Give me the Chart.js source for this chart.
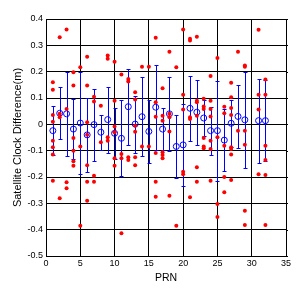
<!DOCTYPE html>
<html>
<head>
<meta charset="utf-8">
<script src="https://cdn.jsdelivr.net/npm/chart.js@4/dist/chart.umd.min.js"></script>
<style>
  html, body { margin: 0; padding: 0; background: #ffffff; }
  canvas { display: block; }
</style>
</head>
<body>
<canvas id="c" width="300" height="294"></canvas>
<script>
// PRN numbers that have a mean / error bar
const prnList = [1,2,3,4,5,6,7,8,9,10,11,12,13,14,15,16,17,18,19,20,21,22,23,24,25,26,27,28,29,31,32];
// Mean clock difference (m) per PRN (blue circles)
const meanDiff = [-0.024,0.042,0.040,-0.018,0.005,-0.040,-0.001,-0.030,0.018,-0.034,-0.053,0.067,0.001,0.029,-0.027,0.065,-0.018,0.040,-0.084,-0.078,0.061,0.046,0.024,-0.024,-0.024,-0.060,0.004,0.030,0.017,0.014,0.014];
// Half length of each error bar (m)
const stdDiff = [0.094,0.098,0.160,0.115,0.195,0.140,0.137,0.066,0.125,0.097,0.145,0.144,0.108,0.150,0.119,0.161,0.080,0.140,0.120,0.156,0.123,0.123,0.069,0.091,0.190,0.118,0.090,0.120,0.183,0.159,0.155];
// Individual clock differences (m) per PRN (red dots), same order as prnList
const sampleDiff = [
  [0.160,0.131,0.035,0.010,-0.062,-0.087,-0.115,-0.214],
  [0.331,0.040,0.027,-0.281],
  [0.360,0.058,-0.220,-0.243],
  [0.198,0.147,-0.052,-0.100,-0.140,-0.157],
  [0.217,-0.084,-0.385],
  [0.257,0.147,0.008,-0.040,-0.155,-0.218,-0.290],
  [0.105,0.087,-0.195,-0.218],
  [0.071,-0.068],
  [0.261,0.249,-0.049,-0.062],
  [0.238,0.090,-0.008,-0.030,-0.129,-0.157],
  [0.189,-0.113,-0.129,-0.414],
  [0.172,0.163,-0.125,-0.135],
  [0.122,0.094,-0.005,-0.028,-0.125,-0.155],
  [0.219,-0.084],
  [0.219,-0.084],
  [0.329,0.084,0.029,-0.109,-0.218,-0.275],
  [0.137,0.033,0.014,-0.106,-0.116,-0.129],
  [0.276,0.040,0.027,-0.027,-0.271],
  [0.217,-0.385],
  [0.360,0.112,0.056,-0.180,-0.190],
  [0.325,0.318,0.027,0.020,-0.277],
  [0.333,0.090,0.084,0.033,-0.163,-0.218],
  [0.097,0.068,0.058,-0.052,-0.084,-0.091],
  [0.184,0.090,0.058,0.030,-0.062,-0.094,-0.214],
  [0.252,-0.049,-0.303,-0.352],
  [0.067,0.042,-0.081,-0.200,-0.258],
  [0.158,0.103,0.062,0.035,-0.087,-0.094,-0.115,-0.211],
  [0.276,-0.024],
  [0.223,0.219,-0.024,-0.078,-0.328,-0.382],
  [0.359,0.112,0.056,-0.190],
  [0.170,0.112,-0.081,-0.135,-0.192,-0.382]
];
// Tick labels
const xTickLabels = ['0','5','10','15','20','25','30','35'];
const yTickLabels = ['-0.5','-0.4','-0.3','-0.2','-0.1','0','0.1','0.2','0.3','0.4'];

const FONT = "'Liberation Sans', Arial, Helvetica, sans-serif";

const samplePoints = [];
prnList.forEach((p, i) => sampleDiff[i].forEach(v => samplePoints.push({x: p, y: v})));
const meanPoints = prnList.map((p, i) => ({x: p, y: meanDiff[i]}));

const errorBarPlugin = {
  id: 'errorBars',
  beforeDatasetsDraw(chart) {
    const ctx = chart.ctx;
    const xs = chart.scales.x, ys = chart.scales.y;
    ctx.save();
    ctx.strokeStyle = '#0000ff';
    ctx.lineWidth = 1;
    prnList.forEach((p, i) => {
      const x = Math.round(xs.getPixelForValue(p)) + 0.5;
      const yt = Math.round(ys.getPixelForValue(meanDiff[i] + stdDiff[i])) + 0.5;
      const yb = Math.round(ys.getPixelForValue(meanDiff[i] - stdDiff[i])) + 0.5;
      ctx.beginPath();
      ctx.moveTo(x, yt); ctx.lineTo(x, yb);
      ctx.moveTo(x - 2, yt); ctx.lineTo(x + 2, yt);
      ctx.moveTo(x - 2, yb); ctx.lineTo(x + 2, yb);
      ctx.stroke();
    });
    ctx.restore();
  },
  afterDraw(chart) {
    const ctx = chart.ctx;
    const ys = chart.scales.y;
    const a = chart.chartArea;
    ctx.save();
    ctx.strokeStyle = '#000';
    ctx.lineWidth = 1;
    ys.ticks.forEach(t => {
      const y = Math.round(ys.getPixelForValue(t.value)) + 0.5;
      ctx.beginPath();
      ctx.moveTo(Math.round(a.right), y); ctx.lineTo(Math.round(a.right) + 2, y);
      ctx.stroke();
    });
    ctx.restore();
  }
};

new Chart(document.getElementById('c'), {
  type: 'scatter',
  data: {
    datasets: [
      {
        label: 'Clock difference',
        data: samplePoints,
        pointStyle: 'circle',
        pointRadius: 2,
        pointBorderWidth: 0,
        backgroundColor: '#ff0000',
        borderColor: '#ff0000'
      },
      {
        label: 'Mean',
        data: meanPoints,
        pointStyle: 'circle',
        pointRadius: 3,
        pointBorderWidth: 1,
        backgroundColor: 'rgba(0,0,0,0)',
        borderColor: '#0000ff'
      }
    ]
  },
  options: {
    responsive: false,
    animation: false,
    events: [],
    layout: { padding: { left: 0, right: 14, top: 19, bottom: 0 } },
    plugins: { legend: { display: false }, tooltip: { enabled: false } },
    scales: {
      x: {
        type: 'linear', min: 0, max: 35,
        afterFit(s) { s.height = 38; },
        ticks: {
          stepSize: 5, padding: 2, color: '#000',
          font: { family: FONT, size: 9 },
          callback: (v, i) => xTickLabels[i]
        },
        grid: { color: '#000', lineWidth: 1, drawTicks: false },
        border: { color: '#000', width: 1 },
        title: {
          display: true, text: 'PRN', color: '#000',
          font: { family: FONT, size: 10.5 },
          padding: { top: 0, bottom: 10 }
        }
      },
      y: {
        type: 'linear', min: -0.5, max: 0.4,
        afterFit(s) { s.width = 46; },
        ticks: {
          stepSize: 0.1, padding: 3, color: '#000',
          font: { family: FONT, size: 9 },
          callback: (v, i) => yTickLabels[i]
        },
        grid: { color: '#000', lineWidth: 1, drawTicks: false },
        border: { color: '#000', width: 1 },
        title: {
          display: true, text: 'Satellite Clock Difference(m)', color: '#000',
          font: { family: FONT, size: 11 },
          padding: { top: 11, bottom: 0 }
        }
      }
    }
  },
  plugins: [errorBarPlugin]
});
</script>
</body>
</html>
